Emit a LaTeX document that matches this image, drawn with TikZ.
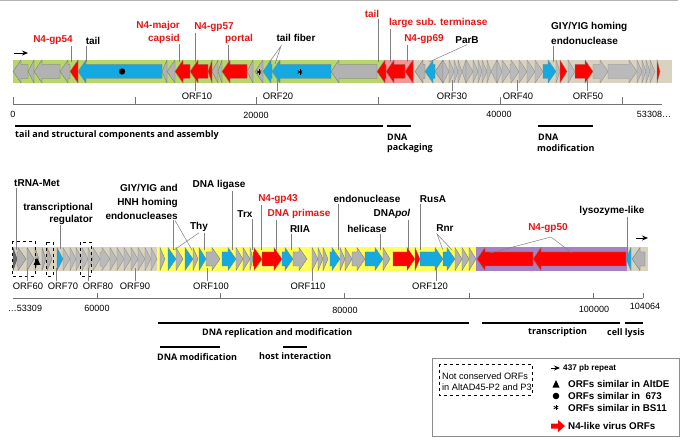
\documentclass[tikz,border=0pt]{standalone}
\usepackage{fontspec}
\setmainfont{Liberation Sans}
\newfontfamily\catfont{Open Sans}
\usetikzlibrary{arrows.meta,calc}
\definecolor{bandgreen}{RGB}{183,214,108}
\definecolor{bandpink}{RGB}{244,150,150}
\definecolor{bandbeige}{RGB}{216,210,190}
\definecolor{bandyellow}{RGB}{255,255,90}
\definecolor{bandpurple}{RGB}{168,128,196}
\definecolor{geneblue}{RGB}{20,170,225}
\definecolor{genered}{RGB}{255,0,0}
\definecolor{genegray}{RGB}{178,178,178}
\definecolor{labred}{RGB}{230,20,20}
\newcommand\gn[5]{%
 \pgfmathsetmacro\gh{min(8,(#2)-(#1))}%
 \ifnum#3>0
  \draw[#4] (#1,#5-7) -- (#2-\gh,#5-7) -- (#2-\gh,#5-11.5) -- (#2,#5) -- (#2-\gh,#5+11.5) -- (#2-\gh,#5+7) -- (#1,#5+7) -- cycle;
 \else
  \draw[#4] (#2,#5-7) -- (#1+\gh,#5-7) -- (#1+\gh,#5-11.5) -- (#1,#5) -- (#1+\gh,#5+11.5) -- (#1+\gh,#5+7) -- (#2,#5+7) -- cycle;
 \fi}
\newcommand\gT[4]{\gn{#1}{#2}{#3}{#4}{71.5}}
\newcommand\gB[4]{\gn{#1}{#2}{#3}{#4}{259}}
\newcommand\mystar[1]{\foreach \aa in {90,150,210}{\draw[line width=0.8pt] ($(#1)+(\aa:2.6)$) -- ($(#1)+(\aa+180:2.6)$);}}
\begin{document}
\begin{tikzpicture}[x=1pt,y=-1pt,
 gg/.style={fill=genegray,draw=black!55,line width=0.3pt},
 gl/.style={fill=genegray!90,draw=black!45,line width=0.3pt},
 gb/.style={fill=geneblue,draw=black!50,line width=0.3pt},
 gr/.style={fill=genered,draw=black!50,line width=0.3pt},
 lab/.style={font=\fontsize{10}{12}\selectfont\bfseries,inner sep=1pt},
 labr/.style={lab,text=labred},
 orf/.style={font=\fontsize{9.4}{10}\selectfont,inner sep=1pt},
 num/.style={font=\fontsize{9}{10}\selectfont,inner sep=0pt},
 cat/.style={font=\catfont\bfseries\fontsize{9}{11}\selectfont,inner sep=0pt,anchor=west},
 catline/.style={line width=1.3pt},
 lead/.style={draw=black!50,line width=0.5pt},
 leg/.style={font=\fontsize{9.8}{11}\selectfont\bfseries,inner sep=0pt,anchor=west},
 rep/.style={-{Stealth[length=6pt,width=5pt]},line width=0.9pt}]
\useasboundingbox (0,0) rectangle (683,446);
\draw[gray!60] (0,0.6) -- (678,0.6);
% ---------------- TOP TRACK ----------------
\fill[bandgreen] (13,60) rectangle (385,83);
\fill[bandpink] (385,60) rectangle (414,83);
\fill[bandbeige] (414,60) rectangle (672,83);
\coordinate (r1a) at (14,53); \coordinate (r1b) at (28,53);
\draw[rep] (r1a) -- (r1b);
\gT{13}{28}{-1}{gg}\gT{28}{34}{-1}{gg}\gT{34}{60}{-1}{gg}\gT{60}{70}{-1}{gg}
\gT{70}{78}{-1}{gr}\gT{78}{162}{-1}{gb}
\gT{162}{167}{-1}{gg}\gT{167}{175}{-1}{gg}
\gT{175}{190}{-1}{gr}\gT{190}{208}{-1}{gr}\gT{208}{212}{-1}{gr}
\gT{212}{218}{-1}{gg}\gT{218}{222}{-1}{gg}
\gT{222}{247}{-1}{gr}
\gT{247}{253}{-1}{gg}\gT{255}{263}{-1}{gg}
\gT{263}{272}{-1}{gb}\gT{272}{331}{-1}{gb}
\gT{331}{377}{-1}{gg}
\gT{377}{386}{-1}{gr}\gT{386}{405}{-1}{gr}\gT{405}{413}{-1}{gr}
\gT{415}{425}{-1}{gg}\gT{425}{435}{-1}{gb}\gT{435}{443}{-1}{gg}
\gT{443}{449}{1}{gl}\gT{449}{454}{1}{gl}\gT{454}{458}{1}{gl}\gT{458}{462}{1}{gl}
\gT{462}{466}{-1}{gl}\gT{466}{473}{1}{gl}\gT{473}{478}{1}{gl}\gT{478}{482}{1}{gl}
\gT{482}{487}{1}{gl}\gT{487}{491}{1}{gl}\gT{491}{497}{-1}{gl}\gT{497}{502}{1}{gl}
\gT{502}{510}{1}{gl}\gT{510}{519}{1}{gl}\gT{519}{527}{1}{gl}\gT{527}{535}{1}{gl}
\gT{535}{543}{1}{gl}\gT{543}{556}{1}{gb}\gT{556}{560}{1}{gl}\gT{560}{567}{1}{gr}
\gT{568}{575}{1}{gl}\gT{575}{593}{1}{gr}\gT{593}{608}{1}{gl}\gT{608}{637}{1}{gl}
\gT{637}{642}{1}{gl}\gT{642}{646}{1}{gl}\gT{646}{650}{1}{gl}\gT{650}{655}{1}{gl}
\gT{657}{660}{1}{gr}
\fill (122,71.5) circle (3.2);
\coordinate (s1) at (259,72); \mystar{s1}
\coordinate (s2) at (300,72); \mystar{s2}
% top labels
\node[labr] (l54) at (53,40) {N4-gp54};
\coordinate (g54) at (71,62); \draw[lead] (l54.south -| g54) -- (g54);
\node[lab] (ltail) at (93,41) {tail};
\coordinate (gtail) at (86,62); \draw[lead] (ltail.south -| gtail) -- (gtail);
\node[labr,anchor=east,align=right] (lcap) at (181,32) {N4-major\\[1pt]capsid};
\coordinate (gcap) at (179,62); \draw[lead] (lcap.south -| gcap) -- (gcap);
\node[labr] (l57) at (214,27) {N4-gp57};
\coordinate (g57) at (195,62); \draw[lead] (l57.south -| g57) -- (g57);
\node[labr] (lport) at (239,39) {portal};
\coordinate (gport) at (228,62); \draw[lead] (lport.south -| gport) -- (gport);
\node[lab] (lfib) at (296,38) {tail fiber};
\coordinate (fa) at (281,46); \coordinate (gfa) at (268,64); \coordinate (gfb) at (275,64);
\draw[lead] (gfa) -- (fa) -- (gfb);
\node[labr] (ltail2) at (372,14) {tail};
\coordinate (gtail2) at (378,62); \draw[lead] (ltail2.south -| gtail2) -- (gtail2);
\node[labr,anchor=west] (lterm) at (388,23) {large sub. terminase};
\coordinate (gterm) at (390,62); \draw[lead] (lterm.south -| gterm) -- (gterm);
\node[labr] (l69) at (424,39) {N4-gp69};
\coordinate (g69) at (407,62); \draw[lead] (l69.south -| g69) -- (g69);
\node[lab] (lparb) at (467,40) {ParB};
\coordinate (gparb) at (429,62); \draw[lead] (lparb.south) -- (gparb);
\node[lab,anchor=west,align=left] (lgiy) at (550,33.5) {GIY/YIG homing\\[3pt]endonuclease};
\coordinate (ggiy) at (553,62); \draw[lead] (lgiy.south -| ggiy) -- (ggiy);
% top ORF labels
\foreach \nm/\cx/\lx in {10/197/195,20/278/277,30/452/452,40/518/517,50/588/587}{
 \node[orf] (o\nm) at (\cx,96) {ORF\nm};
 \coordinate (go\nm) at (\lx,80);
 \draw[lead] (o\nm.north -| go\nm) -- (go\nm);
}
% top ruler
\coordinate (ra) at (13,104); \coordinate (rb) at (662,104);
\draw[black!55,line width=0.5pt] (ra) -- (rb);
\foreach \tx in {13,134.8,256.6,378.4,500.2,622}{\draw[black!55,line width=0.5pt] (\tx,104) -- (\tx,97);}
\node[num] (n0) at (13,114) {0};
\node[num] (n20) at (256,115) {20000};
\node[num] (n40) at (499,114) {40000};
\node[num] (n53) at (654,114) {53308\ldots};
% top categories
\draw[catline] (15,126) -- (383,126);
\node[cat] (c1) at (15,135) {tail and structural components and assembly};
\draw[catline] (387,126) -- (411,126);
\node[cat] (c2) at (387,137) {DNA};
\node[cat] (c2b) at (387,148) {packaging};
\draw[catline] (538,126) -- (593,126);
\node[cat] (c3) at (538,137) {DNA};
\node[cat] (c3b) at (537,148) {modification};
% ---------------- BOTTOM TRACK ----------------
\fill[bandbeige] (13,247) rectangle (157,271);
\fill[bandyellow] (157,247) rectangle (476,271);
\fill[bandpurple] (476,247) rectangle (627,271);
\fill[bandbeige] (627,247) rectangle (648,271);
\gB{13}{17}{1}{fill=black!60,draw=black!70}
\gB{17}{26}{1}{gg}\gB{27}{34}{1}{gg}\gB{35}{39}{1}{gg}\gB{42}{46}{1}{gg}\gB{47}{52}{1}{gg}
\gB{57}{63}{1}{gb}
\gB{63}{70}{1}{gl}\gB{70}{76}{1}{gl}\gB{76}{82}{1}{gl}\gB{82}{88}{1}{gl}\gB{88}{93}{1}{gl}
\gB{93}{100}{1}{gl}\gB{100}{110}{1}{gl}\gB{110}{117}{1}{gl}\gB{117}{124}{1}{gl}
\gB{124}{131}{1}{gl}\gB{131}{138}{1}{gl}\gB{138}{145}{1}{gl}\gB{145}{151}{1}{gl}\gB{151}{157}{1}{gl}
\gB{160}{165}{1}{gg}\gB{168}{176}{1}{gb}\gB{176}{183}{1}{gg}\gB{185}{193}{1}{gb}
\gB{193}{198}{1}{gg}\gB{199}{206}{1}{gb}\gB{206}{220}{1}{gg}\gB{222}{236}{1}{gb}
\gB{236}{243}{1}{gg}\gB{243}{250}{1}{gg}\gB{250}{253}{1}{gg}
\gB{253}{262}{1}{gr}\gB{262}{282}{1}{gr}\gB{282}{293}{1}{gb}\gB{293}{307}{1}{gg}
\gB{312}{318}{1}{gg}\gB{318}{323}{1}{gg}\gB{323}{328}{1}{gg}\gB{330}{340}{1}{gb}
\gB{340}{345}{1}{gg}\gB{345}{352}{1}{gg}\gB{352}{365}{1}{gg}\gB{365}{383}{1}{gb}
\gB{383}{390}{1}{gg}\gB{393}{415}{1}{gr}\gB{415}{420}{1}{gr}\gB{420}{443}{1}{gb}
\gB{443}{455}{1}{gb}\gB{455}{462}{1}{gg}\gB{462}{469}{1}{gg}\gB{469}{476}{1}{gg}
\gB{477}{533}{-1}{gr}\gB{533}{626}{-1}{gr}\gB{626}{631}{-1}{gb}\gB{632}{645}{-1}{gg}
\fill (37,258) -- (40.5,265) -- (33.5,265) -- cycle;
\draw[dashed,line width=0.9pt] (12,241) rectangle (35,276);
\draw[dashed,line width=0.9pt] (46,242) rectangle (53,276);
\draw[dashed,line width=0.9pt] (80,242) rectangle (91,276);
\coordinate (r2a) at (636,238); \coordinate (r2b) at (648,238);
\draw[rep] (r2a) -- (r2b);
% bottom labels
\node[lab] (ltrna) at (37,183) {tRNA-Met};
\coordinate (gtrna) at (16,250); \draw[lead] (ltrna.south -| gtrna) -- (gtrna);
\node[lab,anchor=east,align=right] (lreg) at (94,213.5) {transcriptional\\[0pt]regulator};
\coordinate (greg) at (60,249); \draw[lead] (lreg.south -| greg) -- (greg);
\node[lab,anchor=east,align=right] (lhnh) at (179,201.5) {GIY/YIG and\\[2pt]HNH homing\\[2pt]endonucleases};
\coordinate (ghnh1) at (173,250); \coordinate (ghnh2) at (192,250);
\draw[lead] (lhnh.south -| ghnh1) -- (ghnh1);
\draw[lead] (lhnh.south -| 175,0) -- (ghnh2);
\node[lab] (lthy) at (199,227) {Thy};
\coordinate (gthy1) at (174,250); \coordinate (gthy2) at (204,250);
\draw[lead] (lthy.south) -- (gthy1);
\draw[lead] (lthy.south -| gthy2) -- (gthy2);
\node[lab] (llig) at (219,185) {DNA ligase};
\coordinate (glig) at (232,250); \draw[lead] (llig.south -| glig) -- (glig);
\node[lab] (ltrx) at (245,214) {Trx};
\coordinate (gtrx) at (252,250); \draw[lead] (ltrx.south -| gtrx) -- (gtrx);
\node[labr] (l43) at (278,199) {N4-gp43};
\coordinate (g43) at (261,250); \draw[lead] (l43.south -| g43) -- (g43);
\node[labr] (lprim) at (299,214) {DNA primase};
\coordinate (gprim) at (276,250); \draw[lead] (lprim.south -| gprim) -- (gprim);
\node[lab] (lriia) at (300,229) {RIIA};
\coordinate (griia) at (291,250); \draw[lead] (lriia.south -| griia) -- (griia);
\node[lab] (lendo) at (367,199) {endonuclease};
\coordinate (gendo) at (338,250); \draw[lead] (lendo.south -| gendo) -- (gendo);
\node[lab] (lheli) at (367,229) {helicase};
\coordinate (gheli) at (380,250); \draw[lead] (lheli.south -| gheli) -- (gheli);
\node[lab] (lpol) at (392,214) {DNA\textit{pol}};
\coordinate (gpol) at (408,250); \draw[lead] (lpol.south -| gpol) -- (gpol);
\node[lab] (lrusa) at (433,199) {RusA};
\coordinate (grusa) at (420,250); \draw[lead] (lrusa.south -| grusa) -- (grusa);
\node[lab] (lrnr) at (445,228) {Rnr};
\coordinate (rnra) at (437,234); \coordinate (grnr1) at (443,250); \coordinate (grnr2) at (452,250);
\draw[lead] (grnr1) -- (rnra) -- (grnr2);
\node[labr] (l50) at (548,228) {N4-gp50};
\coordinate (gp50a) at (551,237); \coordinate (g50a) at (490,253); \coordinate (g50b) at (572,253);
\draw[lead] (g50a) -- (gp50a) -- (g50b);
\node[lab] (llys) at (612,211) {lysozyme-like};
\coordinate (glys) at (627,262); \draw[lead] (llys.south -| glys) -- (glys);
% bottom ORF labels
\foreach \nm/\cx/\lx in {60/28/27,70/63/56,80/98/88,90/135/135,100/211/207,110/308/312,120/430/436}{
 \node[orf] (o\nm) at (\cx,286) {ORF\nm};
 \coordinate (go\nm) at (\lx,268);
 \draw[lead] (o\nm.north -| go\nm) -- (go\nm);
}
% bottom ruler
\coordinate (rc) at (13,298); \coordinate (rd) at (643,298);
\draw[black!55,line width=0.5pt] (rc) -- (rd);
\foreach \tx in {97,220,344,469,593,643}{\draw[black!55,line width=0.5pt] (\tx,298) -- (\tx,293);}
\node[num] (n5) at (25,308) {\ldots53309};
\node[num] (n6) at (97,308) {60000};
\node[num] (n8) at (345,310) {80000};
\node[num] (n10) at (594,309) {100000};
\node[num] (n104) at (645,306) {104064};
% bottom categories
\draw[line width=1.6pt] (158,323) -- (469,323);
\node[cat] (c4) at (202,333) {DNA replication and modification};
\draw[catline] (482,323) -- (620,323);
\node[cat] (c5) at (528,332) {transcription};
\draw[catline] (625,323) -- (643,323);
\node[cat] (c6) at (607,333) {cell lysis};
\draw[catline] (160,347) -- (220,347);
\node[cat] (c7) at (157,357) {DNA modification};
\draw[catline] (283,347) -- (307,347);
\node[cat] (c8) at (259,356) {host interaction};
% legend
\draw[black!45,line width=0.6pt] (432,358) rectangle (679,436);
\draw[dashed,line width=0.7pt] (439,364) rectangle (532,395);
\node[font=\fontsize{9.2}{10}\selectfont,anchor=west,inner sep=0pt] (nc1) at (442,376) {Not conserved ORFs};
\node[font=\fontsize{9.2}{10}\selectfont,anchor=west,inner sep=0pt] (nc2) at (442,387) {in AltAD45-P2 and P3};
\coordinate (la) at (551,368); \coordinate (lb) at (560,368);
\draw[rep] (la) -- (lb);
\node[leg,font=\fontsize{8.2}{9}\selectfont\bfseries] (t1) at (563,368) {437 pb repeat};
\fill (556,380) -- (559.5,387.5) -- (552.5,387.5) -- cycle;
\node[leg] (t2) at (568,384) {ORFs similar in AltDE};
\fill (556,396) circle (3.3);
\node[leg] (t3) at (568,396) {ORFs similar in \ 673};
\coordinate (s3) at (556,407.5); \mystar{s3}
\node[leg] (t4) at (568,407.5) {ORFs similar in BS11};
\fill[genered] (551,423.5) -- (558,423.5) -- (558,420) -- (565,426) -- (558,432) -- (558,428.5) -- (551,428.5) -- cycle;
\node[leg] (t5) at (568,426) {N4-like virus ORFs};
\end{tikzpicture}
\end{document}
